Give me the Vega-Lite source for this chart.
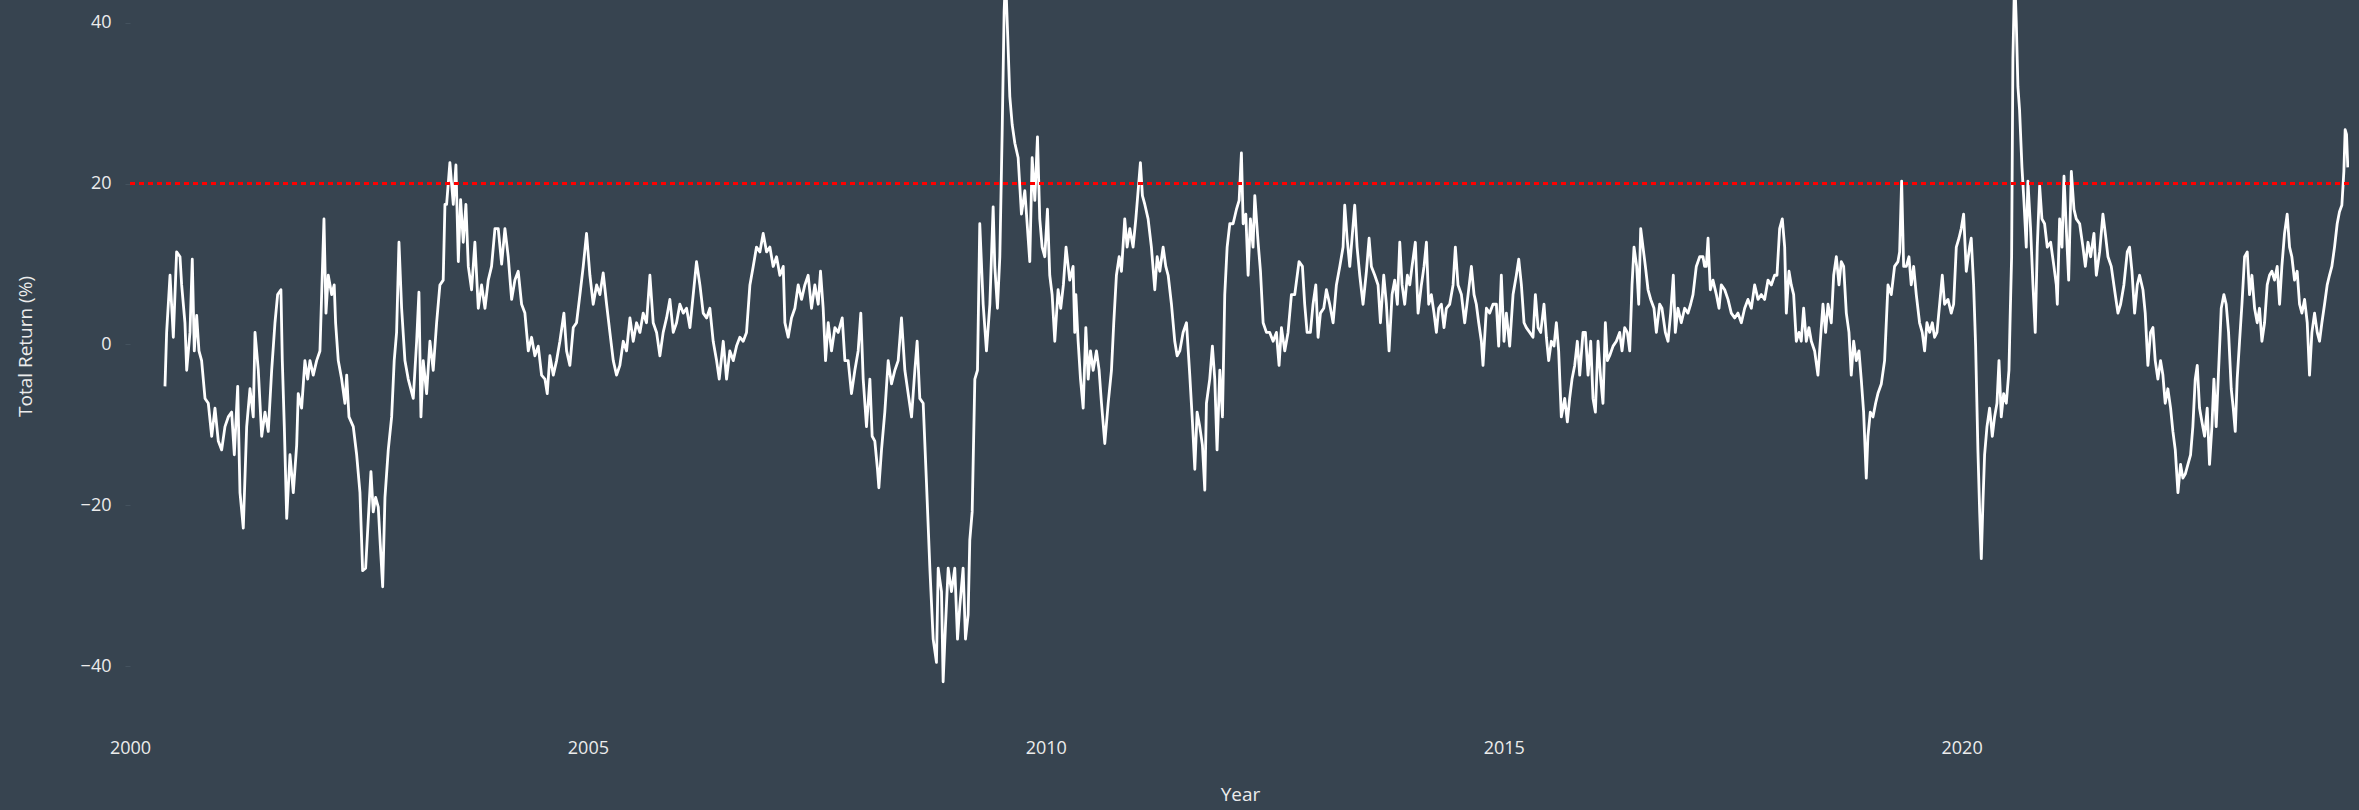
{
  "$schema": "https://vega.github.io/schema/vega-lite/v6.json",
  "width": 2219,
  "height": 726,
  "autosize": {"type": "none"},
  "padding": {"left": 130, "top": 0, "right": 10, "bottom": 84},
  "background": "#374450",
  "config": {
    "view": {"stroke": null},
    "font": "Open Sans",
    "axis": {
      "labelFont": "Open Sans",
      "labelFontSize": 18,
      "labelColor": "#ececec",
      "labelFlush": false,
      "labelOverlap": false,
      "titleFont": "Open Sans",
      "titleFontSize": 19,
      "titleFontWeight": "normal",
      "titleColor": "#ececec",
      "grid": false,
      "domain": false,
      "tickColor": "#44525e",
      "tickSize": 5
    }
  },
  "data": {
    "values": [
      {"t":2000.382,"v":-5.2},{"t":2000.400,"v":1.5},{"t":2000.437,"v":8.6},{"t":2000.473,"v":0.9},{"t":2000.509,"v":11.5},{"t":2000.546,"v":10.9},{"t":2000.564,"v":7.4},{"t":2000.600,"v":2.7},{"t":2000.619,"v":-3.2},{"t":2000.655,"v":1.5},{"t":2000.680,"v":10.6},{"t":2000.702,"v":-0.8},{"t":2000.728,"v":3.6},{"t":2000.753,"v":-0.8},{"t":2000.782,"v":-2.0},{"t":2000.819,"v":-6.7},{"t":2000.855,"v":-7.3},{"t":2000.892,"v":-11.4},{"t":2000.928,"v":-7.9},{"t":2000.964,"v":-12.0},{"t":2001.001,"v":-13.1},{"t":2001.037,"v":-10.2},{"t":2001.073,"v":-9.0},{"t":2001.110,"v":-8.4},{"t":2001.139,"v":-13.7},{"t":2001.176,"v":-5.2},{"t":2001.201,"v":-18.4},{"t":2001.237,"v":-22.8},{"t":2001.274,"v":-10.2},{"t":2001.310,"v":-5.5},{"t":2001.346,"v":-9.0},{"t":2001.365,"v":1.5},{"t":2001.401,"v":-3.2},{"t":2001.438,"v":-11.4},{"t":2001.474,"v":-8.4},{"t":2001.510,"v":-10.8},{"t":2001.547,"v":-3.2},{"t":2001.583,"v":2.7},{"t":2001.612,"v":6.2},{"t":2001.648,"v":6.8},{"t":2001.663,"v":-2.0},{"t":2001.685,"v":-10.2},{"t":2001.711,"v":-21.6},{"t":2001.747,"v":-13.7},{"t":2001.783,"v":-18.4},{"t":2001.820,"v":-12.5},{"t":2001.837,"v":-6.1},{"t":2001.874,"v":-7.9},{"t":2001.910,"v":-2.0},{"t":2001.940,"v":-4.3},{"t":2001.965,"v":-2.0},{"t":2002.001,"v":-3.8},{"t":2002.038,"v":-2.0},{"t":2002.074,"v":-0.8},{"t":2002.118,"v":15.6},{"t":2002.140,"v":3.9},{"t":2002.165,"v":8.6},{"t":2002.202,"v":6.2},{"t":2002.230,"v":7.4},{"t":2002.245,"v":2.7},{"t":2002.274,"v":-2.0},{"t":2002.311,"v":-4.3},{"t":2002.347,"v":-7.3},{"t":2002.366,"v":-3.8},{"t":2002.391,"v":-9.0},{"t":2002.438,"v":-10.2},{"t":2002.475,"v":-13.7},{"t":2002.511,"v":-18.4},{"t":2002.540,"v":-28.1},{"t":2002.573,"v":-27.8},{"t":2002.601,"v":-21.9},{"t":2002.631,"v":-15.8},{"t":2002.656,"v":-20.8},{"t":2002.682,"v":-19.0},{"t":2002.711,"v":-20.2},{"t":2002.733,"v":-24.9},{"t":2002.759,"v":-30.1},{"t":2002.784,"v":-19.0},{"t":2002.820,"v":-13.1},{"t":2002.857,"v":-9.0},{"t":2002.885,"v":-2.0},{"t":2002.911,"v":1.5},{"t":2002.937,"v":12.7},{"t":2002.966,"v":4.5},{"t":2003.002,"v":-2.0},{"t":2003.038,"v":-4.3},{"t":2003.093,"v":-6.7},{"t":2003.130,"v":0.4},{"t":2003.155,"v":6.5},{"t":2003.177,"v":-9.0},{"t":2003.202,"v":-2.0},{"t":2003.239,"v":-6.1},{"t":2003.275,"v":0.4},{"t":2003.311,"v":-3.2},{"t":2003.348,"v":2.7},{"t":2003.384,"v":7.4},{"t":2003.420,"v":8.0},{"t":2003.439,"v":17.4},
      {"t":2003.457,"v":17.4},{"t":2003.493,"v":22.6},{"t":2003.530,"v":17.4},{"t":2003.559,"v":22.3},{"t":2003.585,"v":10.3},{"t":2003.610,"v":18.0},{"t":2003.639,"v":12.7},{"t":2003.668,"v":17.4},{"t":2003.694,"v":9.7},{"t":2003.730,"v":6.8},{"t":2003.766,"v":12.7},{"t":2003.803,"v":4.5},{"t":2003.839,"v":7.4},{"t":2003.876,"v":4.5},{"t":2003.912,"v":8.0},{"t":2003.948,"v":9.7},{"t":2003.985,"v":14.4},{"t":2004.021,"v":14.4},{"t":2004.058,"v":10.0},{"t":2004.094,"v":14.4},{"t":2004.130,"v":10.9},{"t":2004.167,"v":5.6},{"t":2004.203,"v":8.0},{"t":2004.239,"v":9.1},{"t":2004.276,"v":5.0},{"t":2004.312,"v":3.9},{"t":2004.349,"v":-0.8},{"t":2004.385,"v":0.9},{"t":2004.421,"v":-1.4},{"t":2004.458,"v":-0.2},{"t":2004.494,"v":-3.8},{"t":2004.531,"v":-4.3},{"t":2004.556,"v":-6.1},{"t":2004.585,"v":-1.4},{"t":2004.622,"v":-3.8},{"t":2004.658,"v":-2.0},{"t":2004.694,"v":0.4},{"t":2004.738,"v":3.9},{"t":2004.767,"v":-0.8},{"t":2004.803,"v":-2.6},{"t":2004.840,"v":2.1},{"t":2004.876,"v":2.7},{"t":2004.913,"v":6.2},{"t":2004.949,"v":9.7},{"t":2004.985,"v":13.8},{"t":2005.022,"v":8.6},{"t":2005.058,"v":5.0},{"t":2005.095,"v":7.4},{"t":2005.131,"v":6.2},{"t":2005.167,"v":8.9},{"t":2005.204,"v":5.0},{"t":2005.240,"v":1.5},{"t":2005.277,"v":-2.0},{"t":2005.313,"v":-3.8},{"t":2005.349,"v":-2.6},{"t":2005.386,"v":0.4},{"t":2005.422,"v":-0.8},{"t":2005.459,"v":3.3},{"t":2005.495,"v":0.4},{"t":2005.531,"v":2.7},{"t":2005.568,"v":1.5},{"t":2005.604,"v":3.9},{"t":2005.640,"v":2.7},{"t":2005.677,"v":8.6},{"t":2005.713,"v":2.7},{"t":2005.750,"v":1.5},{"t":2005.786,"v":-1.4},{"t":2005.822,"v":1.5},{"t":2005.859,"v":3.3},{"t":2005.895,"v":5.6},{"t":2005.932,"v":1.5},{"t":2005.968,"v":2.7},{"t":2006.004,"v":5.0},{"t":2006.041,"v":3.9},{"t":2006.077,"v":4.5},{"t":2006.114,"v":2.1},{"t":2006.150,"v":6.2},{"t":2006.186,"v":10.3},{"t":2006.223,"v":7.4},{"t":2006.259,"v":3.9},{"t":2006.296,"v":3.3},{"t":2006.332,"v":4.5},{"t":2006.368,"v":0.4},{"t":2006.405,"v":-2.0},{"t":2006.434,"v":-4.3},{"t":2006.478,"v":0.4},{"t":2006.514,"v":-4.3},{"t":2006.550,"v":-0.8},{"t":2006.587,"v":-2.0},{"t":2006.623,"v":-0.2},{"t":2006.659,"v":0.9},{"t":2006.696,"v":0.4},{"t":2006.732,"v":1.5},{"t":2006.769,"v":7.4},{"t":2006.805,"v":9.7},{"t":2006.841,"v":12.1},{"t":2006.878,"v":11.5},
      {"t":2006.914,"v":13.8},{"t":2006.951,"v":11.5},{"t":2006.987,"v":12.1},{"t":2007.023,"v":9.7},{"t":2007.060,"v":10.9},{"t":2007.096,"v":8.6},{"t":2007.133,"v":9.7},{"t":2007.151,"v":2.7},{"t":2007.187,"v":0.9},{"t":2007.223,"v":3.3},{"t":2007.260,"v":4.5},{"t":2007.296,"v":7.4},{"t":2007.333,"v":5.6},{"t":2007.369,"v":7.4},{"t":2007.405,"v":8.6},{"t":2007.442,"v":4.5},{"t":2007.478,"v":7.4},{"t":2007.515,"v":5.0},{"t":2007.540,"v":9.1},{"t":2007.569,"v":4.5},{"t":2007.595,"v":-2.0},{"t":2007.624,"v":2.7},{"t":2007.660,"v":-0.8},{"t":2007.697,"v":2.1},{"t":2007.733,"v":1.5},{"t":2007.777,"v":3.3},{"t":2007.806,"v":-2.0},{"t":2007.842,"v":-2.0},{"t":2007.878,"v":-6.1},{"t":2007.915,"v":-3.2},{"t":2007.951,"v":-0.8},{"t":2007.980,"v":3.9},{"t":2008.006,"v":-4.3},{"t":2008.042,"v":-10.2},{"t":2008.079,"v":-4.3},{"t":2008.104,"v":-11.4},{"t":2008.133,"v":-12.0},{"t":2008.162,"v":-15.5},{"t":2008.177,"v":-17.8},{"t":2008.206,"v":-13.1},{"t":2008.242,"v":-8.4},{"t":2008.279,"v":-2.0},{"t":2008.315,"v":-4.9},{"t":2008.352,"v":-3.2},{"t":2008.388,"v":-2.0},{"t":2008.424,"v":3.3},{"t":2008.461,"v":-3.2},{"t":2008.497,"v":-6.1},{"t":2008.534,"v":-9.0},{"t":2008.570,"v":-3.2},{"t":2008.595,"v":0.4},{"t":2008.624,"v":-6.7},{"t":2008.661,"v":-7.3},{"t":2008.697,"v":-17.2},{"t":2008.734,"v":-27.8},{"t":2008.770,"v":-36.6},{"t":2008.806,"v":-39.5},{"t":2008.825,"v":-27.8},{"t":2008.861,"v":-30.7},{"t":2008.879,"v":-41.9},{"t":2008.905,"v":-34.8},{"t":2008.934,"v":-27.8},{"t":2008.970,"v":-30.7},{"t":2009.006,"v":-27.8},{"t":2009.036,"v":-36.6},{"t":2009.061,"v":-32.5},{"t":2009.097,"v":-27.8},{"t":2009.123,"v":-36.6},{"t":2009.152,"v":-33.6},{"t":2009.170,"v":-24.3},{"t":2009.196,"v":-20.8},{"t":2009.225,"v":-4.3},{"t":2009.254,"v":-3.2},{"t":2009.279,"v":15.0},{"t":2009.316,"v":5.0},{"t":2009.352,"v":-0.8},{"t":2009.389,"v":5.0},{"t":2009.425,"v":17.1},{"t":2009.443,"v":9.7},{"t":2009.472,"v":4.5},{"t":2009.498,"v":10.9},{"t":2009.523,"v":26.1},{"t":2009.545,"v":41.4},{"t":2009.560,"v":46.0},{"t":2009.582,"v":39.0},{"t":2009.607,"v":30.8},{"t":2009.633,"v":27.3},{"t":2009.662,"v":25.0},{"t":2009.698,"v":23.2},{"t":2009.734,"v":16.2},{"t":2009.771,"v":19.1},{"t":2009.800,"v":14.4},{"t":2009.825,"v":10.3},{"t":2009.851,"v":23.2},{"t":2009.880,"v":17.9},{"t":2009.909,"v":25.8},{"t":2009.934,"v":15.6},{"t":2009.960,"v":12.1},{"t":2009.989,"v":10.9},{"t":2010.018,"v":16.8},{"t":2010.043,"v":8.6},{"t":2010.069,"v":6.2},{"t":2010.098,"v":0.4},{"t":2010.134,"v":6.8},{"t":2010.163,"v":4.5},{"t":2010.192,"v":7.4},{"t":2010.221,"v":12.1},{"t":2010.261,"v":8.0},{"t":2010.298,"v":9.7},{"t":2010.316,"v":1.5},
      {"t":2010.328,"v":6.2},{"t":2010.353,"v":0.4},{"t":2010.379,"v":-4.3},{"t":2010.408,"v":-7.9},{"t":2010.437,"v":2.1},{"t":2010.463,"v":-4.3},{"t":2010.488,"v":-0.8},{"t":2010.517,"v":-3.2},{"t":2010.553,"v":-0.8},{"t":2010.582,"v":-3.2},{"t":2010.608,"v":-7.3},{"t":2010.644,"v":-12.3},{"t":2010.681,"v":-7.3},{"t":2010.717,"v":-3.2},{"t":2010.742,"v":2.7},{"t":2010.771,"v":8.6},{"t":2010.801,"v":10.9},{"t":2010.826,"v":9.1},{"t":2010.862,"v":15.6},{"t":2010.888,"v":12.1},{"t":2010.917,"v":14.4},{"t":2010.953,"v":12.1},{"t":2010.983,"v":15.6},{"t":2011.008,"v":19.1},{"t":2011.033,"v":22.6},{"t":2011.055,"v":18.5},{"t":2011.081,"v":17.4},{"t":2011.117,"v":15.6},{"t":2011.153,"v":12.1},{"t":2011.190,"v":6.8},{"t":2011.216,"v":10.9},{"t":2011.245,"v":9.1},{"t":2011.281,"v":12.1},{"t":2011.310,"v":9.7},{"t":2011.336,"v":8.6},{"t":2011.372,"v":5.0},{"t":2011.408,"v":0.4},{"t":2011.434,"v":-1.4},{"t":2011.463,"v":-0.8},{"t":2011.499,"v":1.5},{"t":2011.536,"v":2.7},{"t":2011.572,"v":-3.8},{"t":2011.601,"v":-9.6},{"t":2011.627,"v":-15.5},{"t":2011.652,"v":-8.4},{"t":2011.681,"v":-10.2},{"t":2011.710,"v":-12.5},{"t":2011.736,"v":-18.1},{"t":2011.754,"v":-7.3},{"t":2011.790,"v":-4.3},{"t":2011.819,"v":-0.2},{"t":2011.845,"v":-4.3},{"t":2011.870,"v":-13.1},{"t":2011.900,"v":-3.2},{"t":2011.929,"v":-9.0},{"t":2011.954,"v":6.2},{"t":2011.980,"v":12.1},{"t":2012.009,"v":15.0},{"t":2012.045,"v":15.0},{"t":2012.082,"v":16.8},{"t":2012.111,"v":17.9},{"t":2012.136,"v":23.8},{"t":2012.155,"v":15.0},{"t":2012.184,"v":16.2},{"t":2012.209,"v":8.6},{"t":2012.234,"v":15.6},{"t":2012.263,"v":12.1},{"t":2012.282,"v":18.5},{"t":2012.318,"v":12.7},{"t":2012.344,"v":9.1},{"t":2012.373,"v":2.7},{"t":2012.409,"v":1.5},{"t":2012.445,"v":1.5},{"t":2012.482,"v":0.4},{"t":2012.518,"v":1.5},{"t":2012.547,"v":-2.6},{"t":2012.573,"v":2.1},{"t":2012.609,"v":-0.8},{"t":2012.645,"v":1.5},{"t":2012.682,"v":6.2},{"t":2012.718,"v":6.2},{"t":2012.765,"v":10.3},{"t":2012.802,"v":9.7},{"t":2012.827,"v":5.0},{"t":2012.853,"v":1.5},{"t":2012.889,"v":1.5},{"t":2012.918,"v":5.0},{"t":2012.948,"v":7.4},{"t":2012.973,"v":0.9},{"t":2012.999,"v":3.9},{"t":2013.035,"v":4.5},{"t":2013.064,"v":6.8},{"t":2013.100,"v":5.0},{"t":2013.137,"v":2.7},{"t":2013.173,"v":7.4},{"t":2013.210,"v":9.7},{"t":2013.246,"v":12.1},{"t":2013.264,"v":17.3},{"t":2013.290,"v":13.2},{"t":2013.319,"v":9.7},{"t":2013.348,"v":13.8},{"t":2013.373,"v":17.3},{"t":2013.399,"v":12.1},{"t":2013.428,"v":8.6},{"t":2013.464,"v":5.0},{"t":2013.501,"v":9.1},{"t":2013.530,"v":13.2},{"t":2013.555,"v":9.7},{"t":2013.592,"v":8.6},{"t":2013.628,"v":7.4},{"t":2013.654,"v":2.7},{"t":2013.690,"v":8.6},{"t":2013.719,"v":5.0},{"t":2013.748,"v":-0.8},
      {"t":2013.781,"v":6.2},{"t":2013.810,"v":8.0},{"t":2013.839,"v":5.0},{"t":2013.865,"v":12.7},{"t":2013.890,"v":7.4},{"t":2013.919,"v":5.0},{"t":2013.948,"v":8.6},{"t":2013.974,"v":7.4},{"t":2013.999,"v":9.7},{"t":2014.035,"v":12.7},{"t":2014.065,"v":3.9},{"t":2014.101,"v":7.4},{"t":2014.130,"v":9.7},{"t":2014.156,"v":12.7},{"t":2014.181,"v":5.0},{"t":2014.210,"v":6.2},{"t":2014.239,"v":3.9},{"t":2014.265,"v":1.5},{"t":2014.290,"v":4.5},{"t":2014.319,"v":5.0},{"t":2014.348,"v":2.1},{"t":2014.374,"v":4.5},{"t":2014.410,"v":5.0},{"t":2014.447,"v":7.4},{"t":2014.472,"v":12.1},{"t":2014.501,"v":7.4},{"t":2014.538,"v":6.2},{"t":2014.574,"v":2.7},{"t":2014.611,"v":6.2},{"t":2014.647,"v":9.7},{"t":2014.676,"v":6.2},{"t":2014.701,"v":5.0},{"t":2014.727,"v":2.7},{"t":2014.756,"v":0.4},{"t":2014.774,"v":-2.6},{"t":2014.811,"v":4.5},{"t":2014.847,"v":3.9},{"t":2014.883,"v":5.0},{"t":2014.920,"v":5.0},{"t":2014.945,"v":-0.2},{"t":2014.974,"v":8.6},{"t":2015.003,"v":0.4},{"t":2015.029,"v":3.9},{"t":2015.065,"v":-0.2},{"t":2015.102,"v":6.2},{"t":2015.138,"v":8.6},{"t":2015.164,"v":10.6},{"t":2015.193,"v":7.4},{"t":2015.222,"v":2.7},{"t":2015.247,"v":2.1},{"t":2015.284,"v":1.5},{"t":2015.320,"v":0.9},{"t":2015.346,"v":6.2},{"t":2015.375,"v":2.1},{"t":2015.404,"v":1.5},{"t":2015.440,"v":5.0},{"t":2015.466,"v":0.9},{"t":2015.491,"v":-2.0},{"t":2015.520,"v":0.4},{"t":2015.549,"v":-0.2},{"t":2015.575,"v":2.7},{"t":2015.600,"v":-0.8},{"t":2015.629,"v":-9.0},{"t":2015.666,"v":-6.7},{"t":2015.695,"v":-9.6},{"t":2015.720,"v":-6.7},{"t":2015.746,"v":-4.3},{"t":2015.775,"v":-2.6},{"t":2015.804,"v":0.4},{"t":2015.830,"v":-3.8},{"t":2015.866,"v":1.5},{"t":2015.892,"v":1.5},{"t":2015.921,"v":-3.8},{"t":2015.950,"v":0.4},{"t":2015.975,"v":-6.7},{"t":2016.001,"v":-8.4},{"t":2016.030,"v":0.4},{"t":2016.059,"v":-4.3},{"t":2016.084,"v":-7.3},{"t":2016.110,"v":2.7},{"t":2016.132,"v":-2.0},{"t":2016.157,"v":-1.4},{"t":2016.194,"v":-0.2},{"t":2016.230,"v":0.4},{"t":2016.266,"v":1.5},{"t":2016.292,"v":-0.8},{"t":2016.321,"v":2.1},{"t":2016.350,"v":1.5},{"t":2016.376,"v":-0.8},{"t":2016.401,"v":7.4},{"t":2016.423,"v":12.1},{"t":2016.452,"v":9.7},{"t":2016.474,"v":5.0},{"t":2016.496,"v":14.4},{"t":2016.521,"v":12.1},{"t":2016.547,"v":9.7},{"t":2016.576,"v":6.8},{"t":2016.605,"v":5.6},{"t":2016.641,"v":4.5},{"t":2016.667,"v":1.5},{"t":2016.703,"v":5.0},{"t":2016.728,"v":4.5},{"t":2016.765,"v":1.5},{"t":2016.794,"v":0.4},{"t":2016.823,"v":3.9},{"t":2016.852,"v":8.6},{"t":2016.874,"v":1.5},{"t":2016.903,"v":4.5},{"t":2016.939,"v":2.7},{"t":2016.976,"v":4.5},{"t":2017.012,"v":3.9},{"t":2017.041,"v":5.0},{"t":2017.067,"v":6.2},{"t":2017.103,"v":9.7},{"t":2017.140,"v":10.9},{"t":2017.176,"v":10.9},{"t":2017.194,"v":9.7},
      {"t":2017.212,"v":9.7},{"t":2017.231,"v":13.2},{"t":2017.256,"v":6.8},{"t":2017.285,"v":8.0},{"t":2017.322,"v":6.2},{"t":2017.351,"v":4.5},{"t":2017.376,"v":7.4},{"t":2017.413,"v":6.8},{"t":2017.449,"v":5.6},{"t":2017.485,"v":3.9},{"t":2017.522,"v":3.3},{"t":2017.558,"v":3.9},{"t":2017.595,"v":2.7},{"t":2017.631,"v":4.5},{"t":2017.667,"v":5.6},{"t":2017.704,"v":4.5},{"t":2017.740,"v":7.4},{"t":2017.777,"v":5.6},{"t":2017.813,"v":6.2},{"t":2017.849,"v":5.6},{"t":2017.886,"v":8.0},{"t":2017.922,"v":7.4},{"t":2017.958,"v":8.6},{"t":2017.984,"v":8.6},{"t":2018.013,"v":14.4},{"t":2018.042,"v":15.6},{"t":2018.068,"v":12.1},{"t":2018.086,"v":3.9},{"t":2018.115,"v":9.1},{"t":2018.140,"v":7.4},{"t":2018.166,"v":6.2},{"t":2018.195,"v":0.4},{"t":2018.224,"v":1.5},{"t":2018.249,"v":0.4},{"t":2018.275,"v":4.5},{"t":2018.304,"v":0.4},{"t":2018.333,"v":2.1},{"t":2018.359,"v":0.4},{"t":2018.395,"v":-0.8},{"t":2018.431,"v":-3.8},{"t":2018.457,"v":0.4},{"t":2018.486,"v":5.0},{"t":2018.515,"v":1.5},{"t":2018.541,"v":5.0},{"t":2018.577,"v":2.7},{"t":2018.603,"v":8.6},{"t":2018.632,"v":10.9},{"t":2018.661,"v":7.4},{"t":2018.686,"v":10.3},{"t":2018.712,"v":9.7},{"t":2018.741,"v":3.9},{"t":2018.770,"v":1.5},{"t":2018.795,"v":-3.8},{"t":2018.821,"v":0.4},{"t":2018.850,"v":-2.0},{"t":2018.879,"v":-0.8},{"t":2018.904,"v":-4.3},{"t":2018.930,"v":-8.4},{"t":2018.959,"v":-16.6},{"t":2018.977,"v":-11.4},{"t":2019.003,"v":-8.4},{"t":2019.032,"v":-9.0},{"t":2019.061,"v":-7.3},{"t":2019.086,"v":-6.1},{"t":2019.123,"v":-4.9},{"t":2019.159,"v":-2.0},{"t":2019.196,"v":7.4},{"t":2019.232,"v":6.2},{"t":2019.268,"v":9.7},{"t":2019.305,"v":10.3},{"t":2019.323,"v":11.5},{"t":2019.345,"v":20.3},{"t":2019.367,"v":9.7},{"t":2019.396,"v":9.7},{"t":2019.425,"v":10.9},{"t":2019.450,"v":7.4},{"t":2019.476,"v":9.7},{"t":2019.505,"v":6.2},{"t":2019.541,"v":2.7},{"t":2019.570,"v":1.5},{"t":2019.596,"v":-0.8},{"t":2019.621,"v":2.7},{"t":2019.651,"v":1.5},{"t":2019.680,"v":2.7},{"t":2019.705,"v":0.9},{"t":2019.731,"v":1.5},{"t":2019.760,"v":5.0},{"t":2019.789,"v":8.6},{"t":2019.814,"v":5.0},{"t":2019.851,"v":5.6},{"t":2019.887,"v":3.9},{"t":2019.913,"v":5.0},{"t":2019.942,"v":12.1},{"t":2019.971,"v":13.2},{"t":2019.996,"v":14.4},{"t":2020.022,"v":16.2},{"t":2020.051,"v":9.1},{"t":2020.087,"v":12.1},{"t":2020.105,"v":13.2},{"t":2020.131,"v":7.4},{"t":2020.153,"v":-0.2},{"t":2020.178,"v":-13.1},{"t":2020.197,"v":-20.8},{"t":2020.215,"v":-26.6},{"t":2020.233,"v":-19.6},{"t":2020.251,"v":-13.7},{"t":2020.277,"v":-10.2},{"t":2020.306,"v":-7.9},{"t":2020.335,"v":-11.4},{"t":2020.360,"v":-9.0},{"t":2020.386,"v":-7.3},{"t":2020.408,"v":-2.0},{"t":2020.433,"v":-9.0},{"t":2020.459,"v":-6.1},{"t":2020.488,"v":-7.3},{"t":2020.517,"v":-3.2},{"t":2020.531,"v":3.9},{"t":2020.546,"v":10.9},{"t":2020.560,"v":35.5},{"t":2020.579,"v":46.0},{"t":2020.597,"v":40.0},{"t":2020.615,"v":32.0},
      {"t":2020.633,"v":29.1},{"t":2020.659,"v":22.0},{"t":2020.680,"v":17.9},{"t":2020.706,"v":12.1},{"t":2020.724,"v":20.3},{"t":2020.753,"v":14.4},{"t":2020.779,"v":7.4},{"t":2020.804,"v":1.5},{"t":2020.826,"v":12.1},{"t":2020.852,"v":19.7},{"t":2020.877,"v":15.6},{"t":2020.906,"v":15.0},{"t":2020.935,"v":12.1},{"t":2020.972,"v":12.7},{"t":2021.008,"v":9.7},{"t":2021.034,"v":7.4},{"t":2021.045,"v":5.0},{"t":2021.070,"v":15.6},{"t":2021.096,"v":12.1},{"t":2021.118,"v":20.9},{"t":2021.143,"v":14.4},{"t":2021.169,"v":8.0},{"t":2021.198,"v":21.5},{"t":2021.227,"v":16.8},{"t":2021.252,"v":15.6},{"t":2021.289,"v":15.0},{"t":2021.325,"v":12.1},{"t":2021.351,"v":9.7},{"t":2021.380,"v":12.7},{"t":2021.409,"v":10.9},{"t":2021.445,"v":13.8},{"t":2021.471,"v":8.6},{"t":2021.507,"v":11.5},{"t":2021.543,"v":16.2},{"t":2021.569,"v":13.8},{"t":2021.598,"v":10.9},{"t":2021.634,"v":9.7},{"t":2021.670,"v":6.8},{"t":2021.707,"v":3.9},{"t":2021.736,"v":5.0},{"t":2021.772,"v":7.4},{"t":2021.809,"v":11.5},{"t":2021.834,"v":12.1},{"t":2021.860,"v":9.1},{"t":2021.889,"v":3.9},{"t":2021.918,"v":7.4},{"t":2021.943,"v":8.6},{"t":2021.980,"v":6.8},{"t":2022.005,"v":3.9},{"t":2022.034,"v":-2.6},{"t":2022.063,"v":1.5},{"t":2022.089,"v":2.1},{"t":2022.114,"v":-2.0},{"t":2022.143,"v":-4.3},{"t":2022.172,"v":-2.0},{"t":2022.198,"v":-3.8},{"t":2022.223,"v":-7.3},{"t":2022.252,"v":-5.5},{"t":2022.282,"v":-7.9},{"t":2022.307,"v":-10.8},{"t":2022.333,"v":-13.1},{"t":2022.362,"v":-18.4},{"t":2022.391,"v":-14.9},{"t":2022.416,"v":-16.6},{"t":2022.442,"v":-16.1},{"t":2022.471,"v":-14.9},{"t":2022.500,"v":-13.7},{"t":2022.525,"v":-10.2},{"t":2022.551,"v":-4.3},{"t":2022.573,"v":-2.6},{"t":2022.598,"v":-7.9},{"t":2022.624,"v":-9.6},{"t":2022.653,"v":-11.4},{"t":2022.682,"v":-7.9},{"t":2022.707,"v":-14.9},{"t":2022.733,"v":-10.2},{"t":2022.755,"v":-4.3},{"t":2022.780,"v":-10.2},{"t":2022.806,"v":-3.2},{"t":2022.835,"v":4.5},{"t":2022.864,"v":6.2},{"t":2022.889,"v":5.0},{"t":2022.915,"v":1.5},{"t":2022.944,"v":-5.5},{"t":2022.966,"v":-7.9},{"t":2022.988,"v":-10.8},{"t":2023.009,"v":-4.3},{"t":2023.035,"v":0.4},{"t":2023.061,"v":5.0},{"t":2023.090,"v":10.9},{"t":2023.119,"v":11.5},{"t":2023.144,"v":6.2},{"t":2023.170,"v":8.6},{"t":2023.199,"v":4.5},{"t":2023.228,"v":2.7},{"t":2023.253,"v":4.5},{"t":2023.279,"v":0.4},{"t":2023.308,"v":2.7},{"t":2023.337,"v":7.4},{"t":2023.362,"v":8.6},{"t":2023.388,"v":9.1},{"t":2023.417,"v":8.0},{"t":2023.446,"v":9.7},{"t":2023.472,"v":5.0},{"t":2023.497,"v":9.7},{"t":2023.526,"v":13.8},{"t":2023.555,"v":16.2},{"t":2023.581,"v":12.1},{"t":2023.606,"v":10.9},{"t":2023.635,"v":8.0},{"t":2023.664,"v":9.1},{"t":2023.690,"v":5.0},{"t":2023.716,"v":3.9},{"t":2023.745,"v":5.6},{"t":2023.774,"v":2.7},{"t":2023.799,"v":-3.8},{"t":2023.825,"v":1.5},{"t":2023.854,"v":3.9},{"t":2023.883,"v":1.5},{"t":2023.908,"v":0.4},{"t":2023.934,"v":2.7},{"t":2023.963,"v":5.0},{"t":2023.992,"v":7.4},{"t":2024.017,"v":8.6},{"t":2024.043,"v":9.7},{"t":2024.072,"v":12.1},{"t":2024.101,"v":15.0},{"t":2024.126,"v":16.5},{"t":2024.152,"v":17.3},{"t":2024.174,"v":21.5},{"t":2024.188,"v":26.7},{"t":2024.203,"v":26.1},{"t":2024.217,"v":22.0}
    ]
  },
  "layer": [
    {
      "mark": {"type": "line", "color": "#ffffff", "strokeWidth": 2.8, "clip": true, "strokeJoin": "round"},
      "encoding": {
        "x": {
          "field": "t",
          "type": "quantitative",
          "scale": {"domain": [2000, 2024.23], "nice": false, "zero": false},
          "axis": {
            "values": [2000, 2005, 2010, 2015, 2020],
            "format": "d",
            "title": "Year",
            "tickSize": 0,
            "labelPadding": 22,
            "labelBaseline": "middle",
            "titleX": 1110,
            "titleY": 68,
            "titleBaseline": "middle",
            "titleAlign": "center"
          }
        },
        "y": {
          "field": "v",
          "type": "quantitative",
          "scale": {"domain": [-47.4, 42.8], "nice": false, "zero": false},
          "axis": {
            "values": [-40, -20, 0, 20, 40],
            "format": "d",
            "title": "Total Return (%)",
            "labelPadding": 14,
            "titleX": -105,
            "titleY": 346,
            "titleAngle": 270,
            "titleBaseline": "middle",
            "titleAlign": "center"
          }
        }
      }
    },
    {
      "mark": {"type": "rule", "color": "#ff0000", "strokeWidth": 3, "strokeDash": [4.5, 4.5]},
      "encoding": {"y": {"datum": 20}}
    }
  ]
}
